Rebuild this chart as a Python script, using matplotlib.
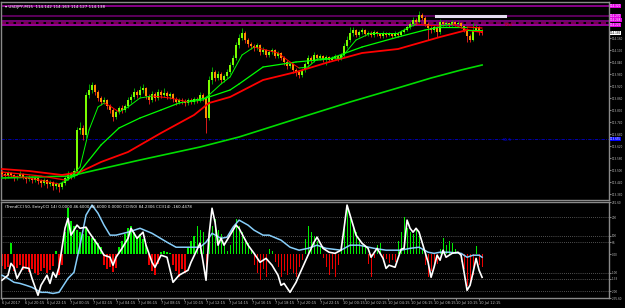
import matplotlib
matplotlib.use("Agg")
import matplotlib.pyplot as plt
from matplotlib.ticker import FormatStrFormatter
import matplotlib.transforms as mtransforms

# ---- price data (USDJPY M15), one value per bar ----
first_open = 113.490
closes = [113.480, 113.470, 113.485, 113.475, 113.460, 113.470, 113.480, 113.465, 113.455, 113.465,
          113.450, 113.460, 113.445, 113.435, 113.450, 113.430, 113.440, 113.420, 113.430, 113.415,
          113.435, 113.460, 113.480, 113.470, 113.495, 113.700, 113.710, 113.675, 113.875, 113.900,
          113.925, 113.890, 113.860, 113.840, 113.850, 113.820, 113.800, 113.765, 113.790, 113.810,
          113.800, 113.820, 113.850, 113.865, 113.890, 113.875, 113.900, 113.910, 113.870, 113.850,
          113.880, 113.860, 113.890, 113.875, 113.885, 113.870, 113.880, 113.855, 113.840, 113.850,
          113.845, 113.835, 113.850, 113.840, 113.855, 113.850, 113.875, 113.860, 113.760, 113.950,
          113.990, 113.960, 113.980, 113.950, 113.970, 113.990, 114.025, 114.060, 114.125, 114.160,
          114.185, 114.150, 114.130, 114.120, 114.110, 114.125, 114.090, 114.100, 114.075, 114.090,
          114.100, 114.070, 114.085, 114.060, 114.040, 114.020, 114.030, 114.000, 113.990, 113.975,
          114.000, 114.030, 114.060, 114.050, 114.075, 114.060, 114.070, 114.055, 114.065, 114.050,
          114.060, 114.070, 114.055, 114.075, 114.120, 114.150, 114.185, 114.200, 114.175, 114.190,
          114.200, 114.180, 114.185, 114.175, 114.190, 114.180, 114.170, 114.185, 114.175, 114.180,
          114.170, 114.185, 114.175, 114.190, 114.200, 114.215, 114.230, 114.250, 114.240, 114.275,
          114.260, 114.230, 114.210, 114.200, 114.215, 114.190, 114.240, 114.230, 114.235, 114.225,
          114.240, 114.230, 114.235, 114.220, 114.200, 114.170, 114.150, 114.200, 114.215, 114.195,
          114.185]
highs = [113.500, 113.490, 113.495, 113.490, 113.480, 113.475, 113.495, 113.485, 113.470, 113.475,
         113.470, 113.470, 113.465, 113.455, 113.460, 113.455, 113.450, 113.445, 113.440, 113.435,
         113.445, 113.470, 113.495, 113.490, 113.510, 113.715, 113.740, 113.725, 113.890, 113.930,
         113.940, 113.930, 113.900, 113.870, 113.865, 113.855, 113.830, 113.810, 113.800, 113.820,
         113.825, 113.830, 113.865, 113.880, 113.910, 113.900, 113.920, 113.930, 113.915, 113.880,
         113.895, 113.890, 113.905, 113.900, 113.910, 113.895, 113.890, 113.885, 113.865, 113.860,
         113.860, 113.855, 113.860, 113.860, 113.865, 113.865, 113.890, 113.885, 113.870, 113.970,
         114.015, 114.000, 113.995, 113.990, 113.980, 114.005, 114.040, 114.075, 114.140, 114.180,
         114.210, 114.195, 114.160, 114.140, 114.130, 114.135, 114.130, 114.115, 114.105, 114.100,
         114.110, 114.105, 114.095, 114.090, 114.070, 114.050, 114.040, 114.035, 114.010, 114.000,
         114.010, 114.040, 114.075, 114.070, 114.090, 114.080, 114.080, 114.075, 114.075, 114.070,
         114.070, 114.080, 114.075, 114.085, 114.135, 114.170, 114.215, 114.215, 114.205, 114.200,
         114.210, 114.205, 114.195, 114.195, 114.200, 114.195, 114.185, 114.195, 114.190, 114.190,
         114.185, 114.195, 114.190, 114.200, 114.210, 114.225, 114.240, 114.265, 114.260, 114.295,
         114.285, 114.270, 114.240, 114.220, 114.225, 114.220, 114.255, 114.245, 114.245, 114.240,
         114.250, 114.245, 114.245, 114.240, 114.225, 114.210, 114.180, 114.235, 114.230, 114.220,
         114.205]
lows = [113.465, 113.455, 113.460, 113.465, 113.445, 113.450, 113.465, 113.455, 113.435, 113.445,
        113.435, 113.440, 113.430, 113.415, 113.425, 113.410, 113.420, 113.400, 113.405, 113.390,
        113.405, 113.425, 113.450, 113.455, 113.460, 113.485, 113.680, 113.650, 113.660, 113.860,
        113.885, 113.875, 113.845, 113.825, 113.830, 113.805, 113.785, 113.745, 113.755, 113.780,
        113.785, 113.790, 113.810, 113.835, 113.855, 113.860, 113.865, 113.885, 113.855, 113.830,
        113.840, 113.845, 113.850, 113.860, 113.865, 113.855, 113.855, 113.840, 113.825, 113.830,
        113.830, 113.820, 113.825, 113.830, 113.830, 113.835, 113.840, 113.845, 113.685, 113.750,
        113.930, 113.945, 113.950, 113.935, 113.940, 113.960, 113.980, 114.015, 114.050, 114.110,
        114.150, 114.135, 114.115, 114.105, 114.095, 114.100, 114.075, 114.080, 114.065, 114.065,
        114.080, 114.060, 114.060, 114.050, 114.025, 114.005, 114.010, 113.985, 113.970, 113.960,
        113.965, 113.990, 114.020, 114.035, 114.040, 114.050, 114.050, 114.040, 114.025, 114.040,
        114.045, 114.050, 114.045, 114.050, 114.065, 114.110, 114.140, 114.170, 114.165, 114.165,
        114.180, 114.170, 114.170, 114.165, 114.165, 114.170, 114.160, 114.160, 114.165, 114.170,
        114.160, 114.165, 114.165, 114.170, 114.185, 114.195, 114.205, 114.220, 114.225, 114.235,
        114.250, 114.220, 114.150, 114.185, 114.190, 114.165, 114.180, 114.220, 114.220, 114.215,
        114.220, 114.220, 114.225, 114.210, 114.190, 114.140, 114.140, 114.145, 114.195, 114.175,
        114.175]

# ---- moving averages (bar index, price) ----
fast_x = [0, 9, 19, 22, 26, 29, 32, 34, 36, 39, 42, 46, 50, 56, 62, 67, 69, 73, 76, 80, 84, 88, 92,
          96, 99, 102, 105, 113, 118, 123, 132, 138, 141, 146, 150, 155, 160]
fast_ma = [113.475, 113.460, 113.430, 113.450, 113.515, 113.700, 113.815, 113.835, 113.820, 113.790,
           113.815, 113.860, 113.870, 113.860, 113.840, 113.850, 113.875, 113.930, 113.965, 114.075,
           114.115, 114.100, 114.085, 114.040, 114.010, 114.015, 114.055, 114.060, 114.150, 114.185,
           114.185, 114.230, 114.225, 114.220, 114.230, 114.200, 114.200]
mid_x = [0, 13, 21, 25, 29, 33, 39, 46, 53, 59, 68, 76, 79, 87, 98, 109, 120, 132, 141, 146, 155, 160]
mid_ma = [113.490, 113.470, 113.450, 113.475, 113.550, 113.625, 113.710, 113.760, 113.800, 113.835,
          113.860, 113.900, 113.930, 114.015, 114.040, 114.055, 114.115, 114.165, 114.200, 114.215,
          114.215, 114.210]
ema50_x = [0, 9, 20, 26, 33, 42, 53, 64, 69, 76, 87, 98, 109, 120, 132, 146, 155, 160]
ema50 = [113.505, 113.495, 113.475, 113.490, 113.540, 113.590, 113.685, 113.775, 113.835, 113.865,
         113.950, 113.990, 114.040, 114.085, 114.105, 114.165, 114.200, 114.190]
ema200_x = [0, 23, 27, 46, 66, 79, 99, 116, 133, 143, 153, 160]
ema200 = [113.460, 113.470, 113.485, 113.550, 113.615, 113.665, 113.760, 113.840, 113.915, 113.960,
          114.000, 114.025]

# ---- horizontal levels ----
level_prices = [114.320, 114.270, 114.2475, 114.235, 114.225]
level_colors = ['#a000a0', '#6a006a', '#8b008b', '#900060', '#b000b0']
level_tags = [114.320, 114.270, 114.248, 114.225]
support_price = 113.655
current_price = 114.185
price_ticks = [113.38, 113.44, 113.50, 113.56, 113.62, 113.68, 113.74, 113.80, 113.86, 113.92,
               113.98, 114.04, 114.10, 114.16]

# ---- CCI panel ----
hist = [-65, -80, -70, 60, -90, -75, -60, -85, -70, -95, -80, -100, -110, -90, -75, -100, -85, -65, 20, -113,
        -60, 120, 250, 180, 150, 130, 120, 110, 140, 100, 90, 80, 60, 40, -60, -80, -70, -95, -75, 40,
        70, 110, 140, 150, 120, 90, 110, 80, 50, -60, -90, -110, -50, 10, 15, 10, 5, -60, -90, -120,
        -80, -100, 40, 70, 100, 150, 130, 120, -70, 80, 150, 190, 130, 110, 60, 20, 50, 130, 190, 150,
        120, 80, 60, 30, -60, -100, -140, -80, -120, 30, 20, -40, -70, -120, -90, -110, -80, -100, -120, -70,
        -30, 80, 150, 120, 100, 70, 40, -20, -70, -110, -80, -120, -60, 30, 150, 250, 190, 150, 120, 70,
        50, 40, -50, -120, -20, 50, 60, -40, -25, -45, -30, -40, 70, 120, 200, 140, 120, 110, 130, 100,
        30, -60, -120, -90, -70, -50, 30, 90, 50, 70, 60, 30, 10, -40, -80, -170, -150, -110, 45, -60,
        -70]
cci_fast_x = [0, 2, 3, 4, 5, 7, 9, 10, 12, 13, 15, 16, 17, 18, 19, 21, 22, 23, 25, 26, 28, 29, 32, 34,
              36, 37, 38, 40, 42, 43, 45, 47, 48, 50, 51, 53, 55, 57, 59, 62, 63, 66, 68, 69, 70, 71,
              72, 73, 74, 76, 78, 79, 82, 84, 86, 88, 90, 92, 93, 94, 96, 98, 99, 102, 104, 105, 107,
              109, 111, 113, 114, 115, 116, 117, 118, 120, 122, 123, 125, 127, 128, 129, 131, 133, 134,
              135, 136, 137, 138, 139, 140, 142, 143, 144, 145, 146, 147, 148, 150, 152, 153, 154, 155,
              156, 157, 158, 159, 160]
cci_fast = [-140, -113, -49, -70, -130, -70, -76, -130, -221, -167, -113, -157, -97, -124, -70, 140, 194,
            103, 157, 140, 146, 119, 49, -5, -16, -59, -16, 32, 86, 140, 86, 119, 49, -43, -70, -5, -16,
            -151, -113, -86, -43, 59, -140, 103, 248, 173, 49, 86, 49, 103, 157, 140, 49, 5, -43, -22,
            -59, -113, -167, -157, -205, -151, -113, -5, 65, 92, 32, 11, 5, 22, 140, 265, 211, 157, 103,
            59, 32, -16, 32, -22, -76, -59, -70, 27, 32, 184, 140, 119, 140, 119, 65, -43, -124, -70, -5,
            -32, 22, -16, 5, 11, -5, -97, -194, -167, -97, -22, -86, -124]
cci_slow_x = [0, 2, 4, 6, 8, 10, 13, 15, 17, 19, 22, 24, 26, 28, 30, 32, 34, 36, 38, 42, 46, 50, 55, 58,
              62, 66, 68, 70, 73, 75, 77, 79, 82, 84, 87, 89, 93, 96, 99, 102, 105, 108, 113, 116, 119,
              124, 128, 133, 136, 139, 142, 144, 146, 149, 153, 155, 157, 159, 160]
cci_slow = [-113, -130, -151, -157, -167, -178, -205, -205, -211, -205, -130, -97, 49, 211, 265, 221, 157,
            103, 103, 119, 140, 113, 65, 38, 38, 38, 65, 113, 86, 92, 146, 184, 157, 130, 103, 103, 76,
            38, 22, 32, 49, 32, 22, 49, 49, 32, 22, 22, 32, 38, 11, 5, 11, 11, 5, -16, -5, -5, -16]
cci_levels = [200, 100, 66, -100, -133, -200]
cci_ticks = [281.6022, 200, 100, 66, 0, -100, -133, -200, -235.6]
cci_tick_labels = ['281.60', '200', '100', '66', '0.00', '-100', '-133', '-200', '-235.60']

time_labels = ['6 Jul 2017', '6 Jul 20:15', '6 Jul 22:15', '7 Jul 00:15', '7 Jul 02:15', '7 Jul 04:15',
               '7 Jul 06:15', '7 Jul 08:15', '7 Jul 10:15', '7 Jul 12:15', '7 Jul 14:15', '7 Jul 16:15',
               '7 Jul 18:15', '7 Jul 20:15', '7 Jul 22:15', '10 Jul 00:15', '10 Jul 02:15',
               '10 Jul 04:15', '10 Jul 06:15', '10 Jul 08:15', '10 Jul 10:15', '10 Jul 12:15']

BULL, BEAR = '#7CFC00', '#FF8C00'
GRID_TXT = '#c0c0c0'
AXIS_FS = 2.0

fig = plt.figure(figsize=(6.25, 3.08), dpi=100, facecolor='black')
ax = fig.add_axes([1 / 625, 108 / 308, 608 / 625, 198 / 308])
ax2 = fig.add_axes([1 / 625, 10 / 308, 608 / 625, 96 / 308])
for a in (ax, ax2):
    a.set_facecolor('black')
    for s in a.spines.values():
        s.set_color('#8a8a8a')
        s.set_linewidth(1.0)
    a.yaxis.tick_right()
    a.tick_params(axis='y', colors=GRID_TXT, labelsize=AXIS_FS, length=1.2, width=0.5, pad=0.6)
    a.set_xlim(-0.33, 202.3)

# candles
bars = list(range(len(closes)))
opens = [first_open] + closes[:-1]
for i, o, c, h, l in zip(bars, opens, closes, highs, lows):
    up = c >= o
    ax.vlines(i, l, h, color='#00c000' if up else '#ff2020', lw=0.6, zorder=2)
    ax.bar(i, max(abs(c - o), 0.001), bottom=min(o, c), width=0.62,
           color=BULL if up else BEAR, lw=0, zorder=3)


def slope_line(a, xs, ys, lw):
    for k in range(len(xs) - 1):
        col = '#00ff00' if ys[k + 1] >= ys[k] else '#ff0000'
        a.plot(xs[k:k + 2], ys[k:k + 2], color=col, lw=lw, zorder=4, solid_capstyle='round')


ax.plot(ema200_x, ema200, color='#00dd00', lw=1.2, zorder=4)
ax.plot(ema50_x, ema50, color='#ff0000', lw=1.3, zorder=4)
slope_line(ax, mid_x, mid_ma, 0.9)
slope_line(ax, fast_x, fast_ma, 0.7)

for p, col in zip(level_prices, level_colors):
    ls = (0, (3, 1.5)) if p == 114.235 else '-'
    ax.axhline(p, color=col, lw=1.2, ls=ls, zorder=1)
ax.axhline(support_price, color='#0000cd', lw=0.6, ls=(0, (4, 1.5, 1, 1.5)), zorder=1)
ax.plot([144.7, 167.7], [114.27, 114.27], color='#e4dcf0', lw=2.2, zorder=5)
ax.text(167.5, 114.225, 'R1S', color='#c00000', fontsize=3.0, va='center', ha='left')
ax.text(167.0, 113.650, 'S1.5', color='#0000e0', fontsize=3.0, va='center', ha='left')

ax.set_ylim(113.35, 114.34)
ax.set_yticks(price_ticks)
ax.yaxis.set_major_formatter(FormatStrFormatter('%.3f'))
ax.tick_params(axis='x', length=0, labelbottom=False)

trans = mtransforms.blended_transform_factory(ax.transAxes, ax.transData)
box = dict(boxstyle='square,pad=0.0', ec='none')
for p in level_tags:
    ax.text(1.002, p, f'{p:.3f}', transform=trans, fontsize=AXIS_FS, color='white', va='center',
            ha='left', bbox=dict(box, fc='#e000e0'), clip_on=False, zorder=6)
ax.text(1.002, current_price, f'{current_price:.3f}', transform=trans, fontsize=AXIS_FS, color='black',
        va='center', ha='left', bbox=dict(box, fc='white'), clip_on=False, zorder=6)
ax.text(1.002, support_price, f'{support_price:.3f}', transform=trans, fontsize=AXIS_FS, color='white',
        va='center', ha='left', bbox=dict(box, fc='#0000ff'), clip_on=False, zorder=6)

ax.text(0.006, 0.985, '\u25be USDJPY,M15  114.142 114.163 114.127 114.138', transform=ax.transAxes,
        color='white', fontsize=3.0, va='top', ha='left')

# CCI panel
ax2.bar(bars, hist, width=0.35, color=['#00ee00' if v > 0 else '#ee0000' for v in hist], lw=0, zorder=2)
for lv in cci_levels:
    ax2.axhline(lv, color='#9a9a9a', lw=0.5, ls=(0, (1, 2)), zorder=1)
ax2.plot(cci_slow_x, cci_slow, color='#87cefa', lw=1.1, zorder=3)
ax2.plot(cci_fast_x, cci_fast, color='white', lw=1.2, zorder=4)
ax2.set_ylim(-235.6, 281.6)
ax2.set_yticks(cci_ticks)
ax2.set_yticklabels(cci_tick_labels)
ax2.text(0.006, 0.97, '(TrendCCI 50, EntryCCI 14) 0.0000 46.6000 46.6000 0.0000 CCI(50) 84.2306 CCI(14) -160.4478',
         transform=ax2.transAxes, color='white', fontsize=2.8, va='top', ha='left')

label_step = 7.57
ax2.set_xticks([k * label_step for k in range(len(time_labels))])
ax2.set_xticklabels(time_labels, ha='left')
ax2.tick_params(axis='x', colors=GRID_TXT, labelsize=2.6, length=1.5, width=0.5, pad=1)

fig.savefig('out.png', dpi=100, facecolor='black')
